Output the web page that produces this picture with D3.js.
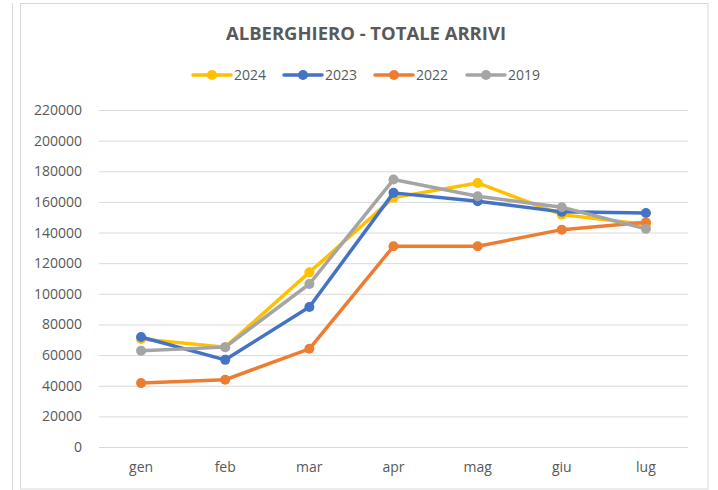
<!DOCTYPE html>
<html><head><meta charset="utf-8">
<script src="https://cdn.jsdelivr.net/npm/d3@7/dist/d3.min.js"></script>
<style>body{margin:0;background:#fff;} svg{display:block;font-family:"Open Sans",sans-serif;}</style>
</head><body>
<script>
const months = ["gen","feb","mar","apr","mag","giu","lug"];
const seriesNames = ["2024","2023","2022","2019"];
const colors = ["#FFC000","#4472C4","#ED7D31","#A5A5A5"];
const v2024 = [70500,65200,114000,162800,172400,151700,145200];
const v2023 = [71800,56900,91400,165900,160400,153500,152800];
const v2022 = [41700,43900,64100,131000,131000,141900,146700];
const v2019 = [62800,65200,106400,174600,163700,156500,142400];
const yTicks = [0,20000,40000,60000,80000,100000,120000,140000,160000,180000,200000,220000];
const title = "ALBERGHIERO - TOTALE ARRIVI";

const W = 718, H = 490;
const svg = d3.select("body").append("svg").attr("width",W).attr("height",H);

// frames
svg.append("line").attr("x1",12.5).attr("x2",12.5).attr("y1",3).attr("y2",H).attr("stroke","#d9d9d9");
svg.append("rect").attr("x",20.5).attr("y",3.5).attr("width",687.5).attr("height",485.5)
  .attr("fill","#fff").attr("stroke","#d9d9d9");

const x = d3.scaleBand().domain(months).range([99,688]);
const y = d3.scaleLinear().domain([0,220000]).range([447,110]);
const cx = d => x(d) + x.bandwidth()/2;

// gridlines
const yAxis = d3.axisLeft(y).tickValues(yTicks).tickFormat(d3.format("d")).tickSize(-(688-99)).tickPadding(17);
const gy = svg.append("g").attr("transform","translate(99,0)").call(yAxis);
gy.select(".domain").remove();
gy.selectAll(".tick line").attr("stroke","#d9d9d9").attr("stroke-width",1);
gy.selectAll(".tick text").attr("fill","#595959").style("font-size","14px").style("font-family","'Open Sans',sans-serif");

const xAxis = d3.axisBottom(x).tickSize(0).tickPadding(15);
const gx = svg.append("g").attr("transform","translate(0,447)").call(xAxis);
gx.select(".domain").remove();
gx.selectAll(".tick text").attr("fill","#595959").style("font-size","14px").style("font-family","'Open Sans',sans-serif");

// title
svg.append("text").attr("x",366).attr("y",40).attr("text-anchor","middle")
  .attr("fill","#595959").style("font-size","18px").style("font-weight","bold")
  .attr("textLength",280).attr("lengthAdjust","spacingAndGlyphs").text(title);

// series
const allVals = [v2024,v2023,v2022,v2019];
const line = d3.line().x((d,i)=>cx(months[i])).y(d=>y(d));
allVals.forEach((vals,si)=>{
  const g = svg.append("g");
  g.append("path").datum(vals).attr("d",line).attr("fill","none")
    .attr("stroke",colors[si]).attr("stroke-width",3.5).attr("stroke-linejoin","round").attr("stroke-linecap","round");
  g.selectAll("circle").data(vals).enter().append("circle")
    .attr("cx",(d,i)=>cx(months[i])).attr("cy",d=>y(d)).attr("r",5).attr("fill",colors[si]);
});

// legend
const legX = [193,284,375,467];
seriesNames.forEach((n,i)=>{
  const g = svg.append("g").attr("transform",`translate(${legX[i]},75)`);
  g.append("line").attr("x1",0).attr("x2",38).attr("y1",0).attr("y2",0)
    .attr("stroke",colors[i]).attr("stroke-width",3.5).attr("stroke-linecap","round");
  g.append("circle").attr("cx",19).attr("cy",0).attr("r",5).attr("fill",colors[i]);
  g.append("text").attr("x",41).attr("y",5).attr("fill","#595959").style("font-size","14px").text(n);
});
</script>
</body></html>
